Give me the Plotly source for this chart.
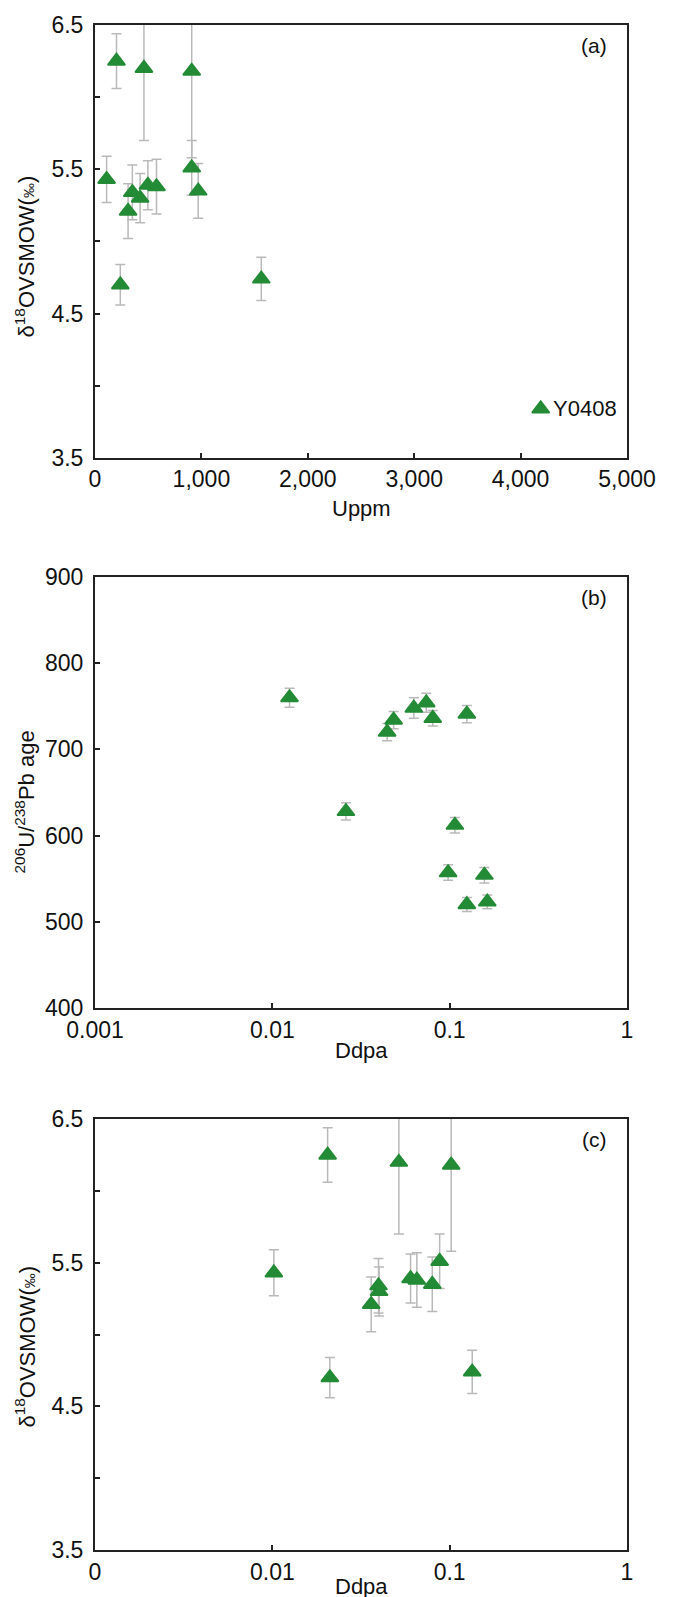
import plotly.graph_objects as go

# ---------------- data ----------------
# Panel (a) and (c): same zircon samples
uppm = [109, 202, 238, 311, 351, 424, 497, 578, 460, 909, 909, 970, 1563]
ddpa_c = [0.0102, 0.0205, 0.0211, 0.0361, 0.0397, 0.0400, 0.0602, 0.0653, 0.0517, 0.0878, 0.102, 0.0798, 0.134]
d18o = [5.43, 6.25, 4.70, 5.21, 5.34, 5.30, 5.39, 5.38, 6.20, 5.51, 6.18, 5.35, 4.74]
d18o_err = [0.16, 0.19, 0.14, 0.19, 0.19, 0.17, 0.17, 0.19, 0.50, 0.19, 0.60, 0.19, 0.15]

# outlier labelled in panel (a)
y0408_label = "Y0408"
y0408_uppm = [4189]
y0408_d18o = [3.84]

# Panel (b)
ddpa_b = [0.0125, 0.0260, 0.0444, 0.0483, 0.0628, 0.0738, 0.0803, 0.125, 0.107, 0.098, 0.157, 0.125, 0.163]
age = [760, 628, 720, 734, 748, 754, 736, 741, 612, 557, 554, 520, 523]
age_err = [11, 10, 10, 10, 12, 11, 9, 10, 9, 9, 9, 8, 8]

# tick labels
a_xticks = [0, 1000, 2000, 3000, 4000, 5000]
a_xtext = ["0", "1,000", "2,000", "3,000", "4,000", "5,000"]
d_yticks = [3.5, 4.0, 4.5, 5.0, 5.5, 6.0, 6.5]
d_ytext = ["3.5", "", "4.5", "", "5.5", "", "6.5"]
log_ticks = [0.001, 0.01, 0.1, 1]
b_xtext = ["0.001", "0.01", "0.1", "1"]
c_xtext = ["0", "0.01", "0.1", "1"]
b_yticks = [400, 500, 600, 700, 800, 900]

# ---------------- style ----------------
GREEN = "#238B35"
ERR = "#b9b9b9"
AX = "#222222"
FONT = "Liberation Sans, Arial, sans-serif"
TXT = "#111111"

marker = dict(symbol="triangle-up", size=15, color=GREEN, line=dict(width=1.8, color=GREEN))

def err(arr):
    return dict(type="data", array=arr, visible=True, color=ERR, thickness=1.5, width=5)

fig = go.Figure()
fig.add_trace(go.Scatter(x=uppm, y=d18o, mode="markers", marker=marker,
                         error_y=err(d18o_err), xaxis="x", yaxis="y", showlegend=False))
fig.add_trace(go.Scatter(x=y0408_uppm, y=y0408_d18o, mode="markers", marker=marker,
                         xaxis="x", yaxis="y", showlegend=False))
fig.add_trace(go.Scatter(x=ddpa_b, y=age, mode="markers", marker=marker,
                         error_y=err(age_err), xaxis="x2", yaxis="y2", showlegend=False))
fig.add_trace(go.Scatter(x=ddpa_c, y=d18o, mode="markers", marker=marker,
                         error_y=err(d18o_err), xaxis="x3", yaxis="y3", showlegend=False))

common = dict(showline=True, mirror=True, linecolor=AX, linewidth=2, showgrid=False,
              zeroline=False, ticks="inside", ticklen=5, tickwidth=1.5, tickcolor=AX,
              tickfont=dict(family=FONT, size=23, color=TXT))

H_TOTAL = 1597
T, B = 16, 45
plot_h = H_TOTAL - T - B

def dom(top_px, bot_px):
    return [(H_TOTAL - B - bot_px) / plot_h, (H_TOTAL - B - top_px) / plot_h]

fig.update_layout(
    width=675, height=1597,
    margin=dict(l=95, r=48, t=T, b=B),
    paper_bgcolor="white", plot_bgcolor="white",
    font=dict(family=FONT, size=22, color=TXT),
    xaxis=dict(common, range=[0, 5000], tickvals=a_xticks, ticktext=a_xtext,
               anchor="y", domain=[0, 1]),
    yaxis=dict(common, range=[3.5, 6.5], tickvals=d_yticks, ticktext=d_ytext,
               anchor="x", domain=dom(16, 452), ticklabelstandoff=5),
    xaxis2=dict(common, type="log", range=[-3, 0], tickvals=log_ticks, ticktext=b_xtext,
                anchor="y2", domain=[0, 1]),
    yaxis2=dict(common, range=[400, 900], tickvals=b_yticks,
                anchor="x2", domain=dom(572, 1006), ticklabelstandoff=5),
    xaxis3=dict(common, type="log", range=[-3, 0], tickvals=log_ticks, ticktext=c_xtext,
                anchor="y3", domain=[0, 1]),
    yaxis3=dict(common, range=[3.5, 6.5], tickvals=d_yticks, ticktext=d_ytext,
                anchor="x3", domain=dom(1118, 1552), ticklabelstandoff=5),
)

ann = []
# panel letters
for ref, lab in [("y", "(a)"), ("y2", "(b)"), ("y3", "(c)")]:
    ann.append(dict(text=lab, xref="paper", x=0.938, yref=ref + " domain", y=1, yshift=-20,
                    xanchor="center", yanchor="middle", showarrow=False,
                    font=dict(family=FONT, size=21, color=TXT)))
# y titles
ytitle_d = "δ<sup>18</sup>OVSMOW(<span style='font-size:15px'>‰</span>)"
ytitle_b = "<sup>206</sup>U/<sup>238</sup>Pb age"
for ref, lab, sh in [("y", ytitle_d, -15), ("y2", ytitle_b, -10), ("y3", ytitle_d, -12)]:
    ann.append(dict(text=lab, xref="paper", x=0, xshift=-70, yref=ref + " domain", y=0.5, yshift=sh,
                    textangle=-90, xanchor="center", yanchor="middle", showarrow=False,
                    font=dict(family=FONT, size=22, color=TXT)))
# x titles
for ref, lab, sh in [("y", "Uppm", -51), ("y2", "Ddpa", -43), ("y3", "Ddpa", -36)]:
    ann.append(dict(text=lab, xref="paper", x=0.5, yref=ref + " domain", y=0, yshift=sh,
                    xanchor="center", yanchor="middle", showarrow=False,
                    font=dict(family=FONT, size=22, color=TXT)))
# outlier label
ann.append(dict(text=y0408_label, x=y0408_uppm[0], y=y0408_d18o[0], xref="x", yref="y",
                xanchor="left", yanchor="middle", xshift=10, showarrow=False,
                font=dict(family=FONT, size=22, color=TXT)))
fig.update_layout(annotations=ann)

fig.write_html("out.html")
